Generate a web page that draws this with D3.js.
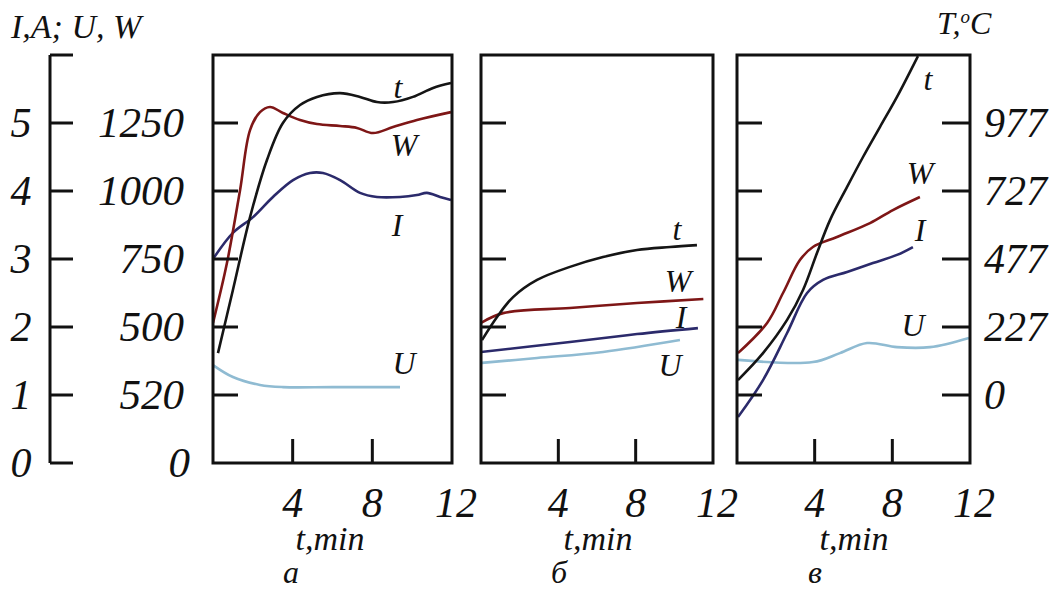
<!DOCTYPE html>
<html>
<head>
	<script src="https://cdn.jsdelivr.net/npm/d3@7"></script>
	<style>
		html, body { padding: 0; margin: 0; background: #fff; }
		text { font-family: "Liberation Serif", "Times New Roman", serif; font-style: italic; fill: #111; }
	</style>
</head>
<body>
<script>
// ---- data (time in min, value in W-scale units of the shared left axis) ----
var leftTicks   = [0, 250, 500, 750, 1000, 1250];
var iLabels     = ["0", "1", "2", "3", "4", "5"];
var wLabels     = ["0", "520", "500", "750", "1000", "1250"];
var innerTicks  = [250, 500, 750, 1000, 1250];
var tempLabels  = ["0", "227", "477", "727", "977"];
var timeTicks   = [4, 8, 12];
var panelNames  = ["а", "б", "в"];

// panel а
var a_t = [[0.25,404],[1.0,636],[1.86,904],[2.71,1114],[3.51,1250],[4.37,1316],[5.22,1346],[6.38,1360],[7.38,1346],[8.23,1327],[9.04,1327],[10.04,1346],[11.05,1379],[11.95,1397]];
var a_W = [[0,515],[0.7,735],[1.36,1004],[1.86,1224],[2.36,1290],[2.86,1309],[3.51,1287],[4.37,1261],[5.22,1246],[6.38,1239],[7.23,1232],[8.03,1213],[9.04,1235],[10.24,1261],[11.95,1290]];
var a_I = [[0,750],[1.0,846],[2.01,904],[3.01,978],[4.02,1040],[4.87,1066],[5.52,1066],[6.38,1040],[7.38,993],[8.23,978],[9.39,978],[10.24,985],[10.74,993],[11.4,978],[11.95,967]];
var a_U = [[0,360],[1.0,316],[2.36,287],[3.51,279],[6.0,279],[9.39,279]];

// panel б
var b_t = [[0.05,452],[0.83,537],[1.66,610],[2.9,673],[4.6,721],[6.31,757],[8.07,783],[9.78,794],[11.17,801]];
var b_W = [[0,515],[1.14,551],[4.6,570],[8.07,588],[11.5,603]];
var b_I = [[0,408],[4.6,445],[8.07,474],[11.22,496]];
var b_U = [[0.05,368],[2.9,386],[6.31,408],[10.29,452]];

// panel в
var c_t = [[0.05,305],[1.34,404],[2.58,526],[3.4,636],[4.12,772],[4.79,893],[5.67,1015],[6.49,1125],[7.36,1235],[8.24,1346],[9.32,1496]];
var c_W = [[0.05,404],[1.55,515],[2.37,625],[3.24,746],[3.91,794],[5.15,831],[6.85,882],[8.03,930],[9.42,978]];
var c_I = [[0.05,169],[1.34,305],[2.58,478],[3.61,625],[4.43,673],[5.67,702],[7.0,735],[8.24,765],[9.06,794]];
var c_U = [[0.05,379],[3.91,371],[5.3,404],[6.7,441],[8.24,426],[9.94,426],[11.95,460]];

var colors = { t: "#151515", W: "#7e1616", I: "#2b2a6b", U: "#8fbbd2" };

var svg = d3.select("body").append("svg")
	.attr("width", 1061)
	.attr("height", 592);

var y = d3.scaleLinear().domain([0, 1500]).range([463, 55]);

// ---- left axis ----
var axX = 50;
svg.append("line")
	.attr("x1", axX).attr("x2", axX)
	.attr("y1", y(0)).attr("y2", y(1500))
	.attr("stroke", "#111").attr("stroke-width", 3);
svg.selectAll(".lt").data(leftTicks.concat([1500])).enter().append("line")
	.attr("x1", axX).attr("x2", axX + 23)
	.attr("y1", d => y(d)).attr("y2", d => y(d))
	.attr("stroke", "#111").attr("stroke-width", 3);
svg.selectAll(".il").data(leftTicks).enter().append("text")
	.attr("x", 21).attr("y", d => y(d) + 14)
	.attr("text-anchor", "middle")
	.style("font-size", "42px")
	.text((d, i) => iLabels[i]);
svg.selectAll(".wl").data(leftTicks).enter().append("text")
	.attr("x", (d, i) => i == 0 ? 190 : 184).attr("y", d => y(d) + 14)
	.attr("text-anchor", "end")
	.style("font-size", "43px")
	.text((d, i) => wLabels[i]);

svg.append("text").attr("x", 11).attr("y", 38)
	.style("font-size", "34px").text("I,A; U, W");
svg.append("text").attr("x", 937).attr("y", 34)
	.style("font-size", "32px")
	.html('T,<tspan dy="-11" font-size="19px">o</tspan><tspan dy="11">C</tspan>');

// ---- panels ----
var panels = [
	{ left: 213, right: 452, series: { t: a_t, W: a_W, I: a_I, U: a_U },
	  labels: { t: [398, 98], W: [404, 156], I: [397, 236], U: [404, 374] } },
	{ left: 481, right: 713, series: { t: b_t, W: b_W, I: b_I, U: b_U },
	  labels: { t: [677, 240], W: [678, 292], I: [681, 328], U: [670, 376] } },
	{ left: 737, right: 970, series: { t: c_t, W: c_W, I: c_I, U: c_U },
	  labels: { t: [928, 90], W: [920, 184], I: [920, 241], U: [913, 336] } }
];

panels.forEach(function(p, pi) {
	var x = d3.scaleLinear().domain([0, 12]).range([p.left, p.right]);
	var g = svg.append("g");

	var clipId = "clip" + pi;
	g.append("clipPath").attr("id", clipId).append("rect")
		.attr("x", p.left).attr("y", y(1500))
		.attr("width", p.right - p.left).attr("height", y(0) - y(1500));

	var line = d3.line()
		.x(d => x(d[0])).y(d => y(d[1]))
		.curve(d3.curveCatmullRom.alpha(0.5));

	["U", "I", "W", "t"].forEach(function(k) {
		g.append("path")
			.attr("d", line(p.series[k]))
			.attr("clip-path", "url(#" + clipId + ")")
			.attr("fill", "none")
			.attr("stroke", colors[k])
			.attr("stroke-width", 2.6);
	});

	// frame
	g.append("rect")
		.attr("x", p.left).attr("y", y(1500))
		.attr("width", p.right - p.left).attr("height", y(0) - y(1500))
		.attr("fill", "none").attr("stroke", "#111").attr("stroke-width", 3);

	// inner y ticks
	g.selectAll(".yt").data(innerTicks).enter().append("line")
		.attr("x1", p.left).attr("x2", p.left + 25)
		.attr("y1", d => y(d)).attr("y2", d => y(d))
		.attr("stroke", "#111").attr("stroke-width", 3);
	if (pi == 2) {
		g.selectAll(".yr").data(innerTicks).enter().append("line")
			.attr("x1", p.right - 28).attr("x2", p.right)
			.attr("y1", d => y(d)).attr("y2", d => y(d))
			.attr("stroke", "#111").attr("stroke-width", 3);
		g.selectAll(".tl").data(innerTicks).enter().append("text")
			.attr("x", p.right + 14).attr("y", d => y(d) + 14)
			.style("font-size", "42px")
			.text((d, i) => tempLabels[i]);
	}

	// x ticks
	g.selectAll(".xt").data([4, 8]).enter().append("line")
		.attr("x1", d => x(d)).attr("x2", d => x(d))
		.attr("y1", y(0)).attr("y2", y(0) - 24)
		.attr("stroke", "#111").attr("stroke-width", 3);
	g.selectAll(".xl").data(timeTicks).enter().append("text")
		.attr("x", d => x(d) + (d == 12 ? 4 : 0)).attr("y", 517)
		.attr("text-anchor", "middle")
		.style("font-size", "42px")
		.text(d => d);

	g.append("text")
		.attr("x", p.left + 117).attr("y", 550)
		.attr("text-anchor", "middle")
		.style("font-size", "34px")
		.text("t,min");
	g.append("text")
		.attr("x", p.left + 78).attr("y", 583)
		.attr("text-anchor", "middle")
		.style("font-size", "32px")
		.text(panelNames[pi]);

	// series labels
	Object.keys(p.labels).forEach(function(k) {
		g.append("text")
			.attr("x", p.labels[k][0]).attr("y", p.labels[k][1])
			.attr("text-anchor", "middle")
			.style("font-size", "32px")
			.text(k);
	});
});
</script>
</body>
</html>
